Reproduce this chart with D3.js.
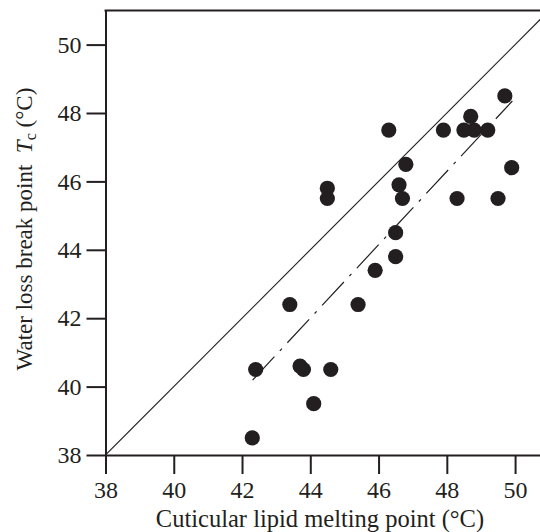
<!DOCTYPE html>
<html lang="en">
<head>
<meta charset="UTF-8">
<title>Tc vs cuticular lipid melting point</title>
<script src="https://cdn.jsdelivr.net/npm/d3@7/dist/d3.min.js"></script>
<style>
    body { margin: 0; background: #fff; }
    svg { display: block; font-family: "Liberation Serif", "Times New Roman", serif; }
    .axis text { font-size: 24px; fill: #231f20; }
    .axis path, .axis line { stroke: #231f20; stroke-width: 2; }
</style>
</head>
<body>
<svg width="540" height="532"></svg>
<script>
// melting point (x) and break point Tc (y)
const meltingPoint = [49.7, 48.7, 47.9, 48.5, 48.8, 49.2, 46.3, 46.8, 49.9, 46.6, 44.5, 44.5, 46.7,
    48.3, 49.5, 46.5, 46.5, 45.9, 43.4, 45.4, 42.4, 43.7, 43.8, 44.6, 44.1, 42.3];
const breakPoint = [48.5, 47.9, 47.5, 47.5, 47.5, 47.5, 47.5, 46.5, 46.4, 45.9, 45.8, 45.5, 45.5,
    45.5, 45.5, 44.5, 43.8, 43.4, 42.4, 42.4, 40.5, 40.6, 40.5, 40.5, 39.5, 38.5];
const tickValues = [38, 40, 42, 44, 46, 48, 50];
const identityLine = [38, 51];
// dash-dot fit line end points
const fitX = [42.31, 49.92];
const fitY = [40.19, 48.35];

const ink = "#231f20";
const serif = "'Liberation Serif', 'Times New Roman', serif";
const svg = d3.select("svg");

const x = d3.scaleLinear().domain([38, 50.73]).range([105.5, 540]);
const y = d3.scaleLinear().domain([38, 51]).range([455, 10.4]);

svg.append("defs").append("clipPath").attr("id", "plot")
    .append("rect")
    .attr("x", x(38)).attr("y", y(51))
    .attr("width", x(50.73) - x(38)).attr("height", y(38) - y(51));

// y = x reference
svg.append("line")
    .attr("clip-path", "url(#plot)")
    .attr("x1", x(identityLine[0])).attr("y1", y(identityLine[0]))
    .attr("x2", x(identityLine[1])).attr("y2", y(identityLine[1]))
    .attr("stroke", ink).attr("stroke-width", 1.1);

// fit line
svg.append("line")
    .attr("x1", x(fitX[0])).attr("y1", y(fitY[0]))
    .attr("x2", x(fitX[1])).attr("y2", y(fitY[1]))
    .attr("stroke", ink).attr("stroke-width", 1.2)
    .attr("stroke-dasharray", "32,8,3,8");

svg.append("g")
    .selectAll("circle")
    .data(meltingPoint.map((m, i) => ({ m, t: breakPoint[i] })))
    .join("circle")
    .attr("cx", d => x(d.m))
    .attr("cy", d => y(d.t))
    .attr("r", 7.6)
    .attr("fill", ink);

svg.append("g")
    .attr("class", "axis")
    .attr("transform", `translate(0,${y(38)})`)
    .call(d3.axisBottom(x).tickValues(tickValues).tickSize(19).tickSizeOuter(0).tickPadding(7))
    .attr("font-family", serif).attr("font-size", 24);

svg.append("g")
    .attr("class", "axis")
    .attr("transform", `translate(${x(38)},0)`)
    .call(d3.axisLeft(y).tickValues(tickValues).tickSize(19).tickSizeOuter(0).tickPadding(5))
    .attr("font-family", serif).attr("font-size", 24);

// top border
svg.append("line")
    .attr("x1", x(38) - 1).attr("y1", y(51))
    .attr("x2", 540).attr("y2", y(51))
    .attr("stroke", ink).attr("stroke-width", 2);

svg.append("text")
    .attr("x", 320).attr("y", 527)
    .attr("text-anchor", "middle")
    .attr("font-size", 24.5).attr("fill", ink)
    .text("Cuticular lipid melting point (\u00b0C)");

const yLabel = svg.append("text")
    .attr("transform", "translate(32,229) rotate(-90)")
    .attr("text-anchor", "middle")
    .attr("font-size", 23).attr("fill", ink);
yLabel.append("tspan").text("Water loss break point\u00a0\u00a0");
yLabel.append("tspan").attr("font-style", "italic").text("T");
yLabel.append("tspan").attr("font-size", 16).attr("dy", 4).text("c");
yLabel.append("tspan").attr("dy", -4).text(" (\u00b0C)");
</script>
</body>
</html>
